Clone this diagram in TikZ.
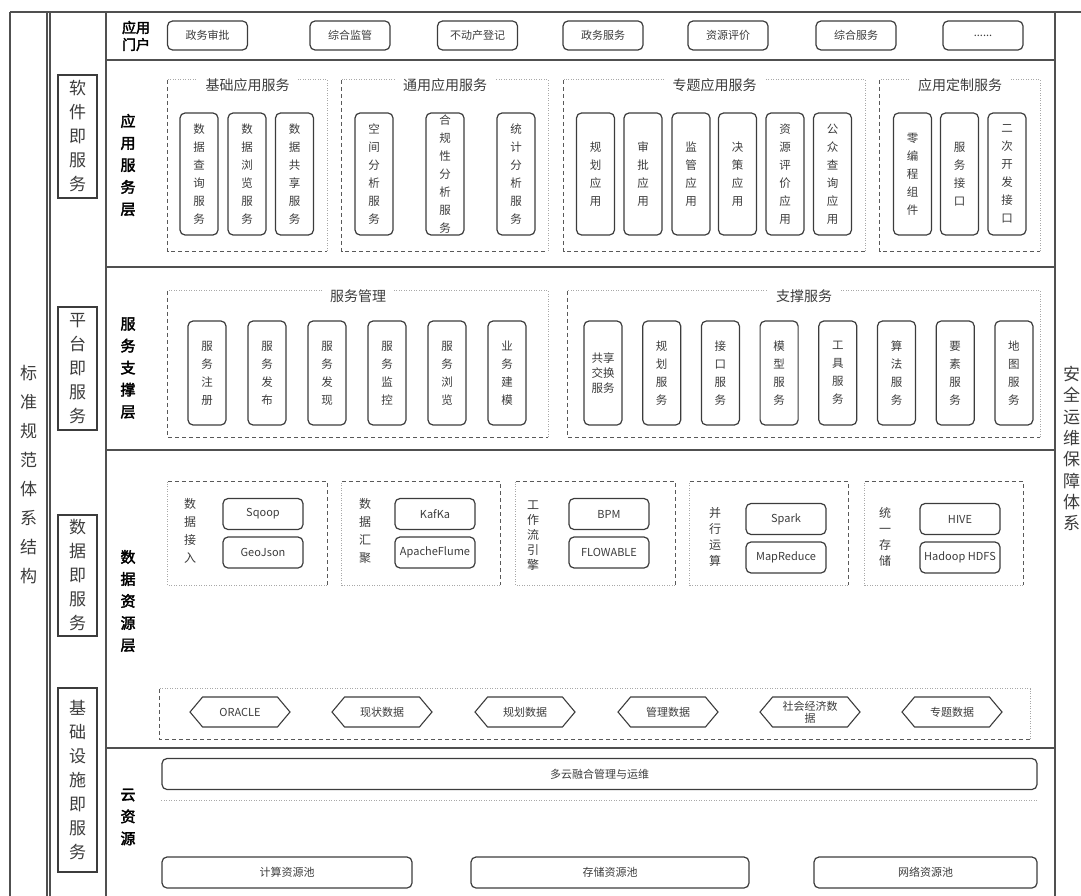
\documentclass[tikz,border=0pt]{standalone}
\usepackage{fontspec}
\setmainfont{Noto Sans CJK SC}
\newfontfamily\heavy[FakeBold=2.5]{Noto Sans CJK SC}
\usetikzlibrary{shapes.symbols}
\definecolor{ink}{HTML}{3C3C3C}
\definecolor{frame}{HTML}{505050}
\definecolor{faint}{HTML}{A8A8A8}

\begin{document}
\begin{tikzpicture}[
    x=1pt, y=-1pt,
    rule/.style={draw=frame, line width=1.6pt},
    pill/.style={draw=ink, rounded corners=5pt, line width=1.2pt, inner sep=0pt, align=center,
                 text=ink, font=\fontsize{11}{13}\selectfont},
    portal/.style={pill, minimum width=80pt, minimum height=29pt},
    appbox/.style={pill, minimum width=38pt, minimum height=122pt, font=\fontsize{11.5}{18}\selectfont},
    supbox/.style={pill, minimum width=38pt, minimum height=104pt, font=\fontsize{11.5}{18}\selectfont},
    tool/.style={pill, minimum width=80pt, minimum height=31pt},
    wide/.style={pill, minimum height=31pt},
    hexa/.style={draw=ink, line width=1.1pt, signal, signal to=west and east, signal pointer angle=100,
                 minimum width=100pt, minimum height=30pt, inner sep=0pt, align=center, text=ink,
                 font=\fontsize{11}{12}\selectfont},
    side/.style={draw=ink, line width=1.2pt, minimum width=39pt, inner sep=0pt, align=center,
                 text=ink, font=\fontsize{17}{24}\selectfont},
    sidetxt/.style={inner sep=0pt, align=center, text=ink},
    layer/.style={inner sep=0pt, align=center, font=\heavy\fontsize{15}{22}\selectfont},
    grp/.style={inner sep=0pt},
    gtitle/.style={fill=white, inner xsep=8pt, inner ysep=1pt, text=ink, font=\fontsize{14}{16}\selectfont},
    vlab/.style={inner sep=0pt, align=center, text=ink, font=\fontsize{12}{18}\selectfont},
    dashln/.style={draw=ink!85, line width=0.9pt, dash pattern=on 4pt off 3pt},
    dotln/.style={draw=faint, line width=0.8pt, dash pattern=on 1pt off 1.5pt},
  ]
  \useasboundingbox (0,0) rectangle (1081,896);

  % frame of the whole architecture
  \draw[rule] (10,12) -- (1081,12);
  \draw[rule] (10,12) -- (10,896);
  \draw[rule] (47,12) -- (47,896);
  \draw[rule] (50,12) -- (50,896);
  \draw[rule] (106,12) -- (106,896);
  \draw[rule] (1055,12) -- (1055,896);
  \foreach \y in {60,267,450,748}
    \draw[rule] (106,\y) -- (1055,\y);

  % outer columns
  \node[sidetxt, font=\fontsize{17}{29}\selectfont] (std) at (28.5,475) {标\\准\\规\\范\\体\\系\\结\\构};
  \node[sidetxt, anchor=north west, font=\fontsize{17}{21.3}\selectfont] (secu) at (1063,366) {安\\全\\运\\维\\保\\障\\体\\系};
  \node[side, minimum height=123pt] (saas) at (77.5,136.5) {软\\件\\即\\服\\务};
  \node[side, minimum height=123pt] (paas) at (77.5,368.5) {平\\台\\即\\服\\务};
  \node[side, minimum height=121pt] (daas) at (77.5,575.5) {数\\据\\即\\服\\务};
  \node[side, minimum height=184pt] (iaas) at (77.5,780) {基\\础\\设\\施\\即\\服\\务};

  % application portal
  \node[layer, font=\heavy\fontsize{14}{17}\selectfont] (portal) at (136,36) {应用\\门户};
  \node[portal] (p1) at (207.5,35.5) {政务审批};
  \node[portal] (p2) at (350,35.5)   {综合监管};
  \node[portal] (p3) at (477.5,35.5) {不动产登记};
  \node[portal] (p4) at (603,35.5)   {政务服务};
  \node[portal] (p5) at (728,35.5)   {资源评价};
  \node[portal] (p6) at (856,35.5)   {综合服务};
  \node[portal] (p7) at (983,35.5)   {......};

  % application service layer
  \node[layer] (applab) at (128,165) {应\\用\\服\\务\\层};
  \node[grp, minimum width=159pt, minimum height=171pt] (gbase)  at (247.5,165.5) {};
  \node[grp, minimum width=206pt, minimum height=171pt] (gcomm)  at (445,165.5)   {};
  \node[grp, minimum width=301pt, minimum height=171pt] (gtopic) at (714.5,165.5) {};
  \node[grp, minimum width=160pt, minimum height=171pt] (gcust)  at (960,165.5)   {};

  \node[appbox] (a1)  at (199,174)   {数\\据\\查\\询\\服\\务};
  \node[appbox] (a2)  at (247,174)   {数\\据\\浏\\览\\服\\务};
  \node[appbox] (a3)  at (294.5,174) {数\\据\\共\\享\\服\\务};
  \node[appbox] (a4)  at (374,174)   {空\\间\\分\\析\\服\\务};
  \node[appbox] (a5)  at (445,174)   {合\\规\\性\\分\\析\\服\\务};
  \node[appbox] (a6)  at (516,174)   {统\\计\\分\\析\\服\\务};
  \node[appbox] (a7)  at (595.5,174) {规\\划\\应\\用};
  \node[appbox] (a8)  at (643,174)   {审\\批\\应\\用};
  \node[appbox] (a9)  at (691,174)   {监\\管\\应\\用};
  \node[appbox] (a10) at (737.5,174) {决\\策\\应\\用};
  \node[appbox] (a11) at (785,174)   {资\\源\\评\\价\\应\\用};
  \node[appbox] (a12) at (832.5,174) {公\\众\\查\\询\\应\\用};
  \node[appbox] (a13) at (912.5,174) {零\\编\\程\\组\\件};
  \node[appbox] (a14) at (959.5,174) {服\\务\\接\\口};
  \node[appbox] (a15) at (1007,174)  {二\\次\\开\\发\\接\\口};

  % service support layer
  \node[layer] (suplab) at (128,368) {服\\务\\支\\撑\\层};
  \node[grp, minimum width=380pt, minimum height=146pt] (gmgmt) at (358,364) {};
  \node[grp, minimum width=472pt, minimum height=146pt] (gsupp) at (804,364) {};

  \node[supbox] (m1) at (207,373) {服\\务\\注\\册};
  \node[supbox] (m2) at (267,373) {服\\务\\发\\布};
  \node[supbox] (m3) at (327,373) {服\\务\\发\\现};
  \node[supbox] (m4) at (387,373) {服\\务\\监\\控};
  \node[supbox] (m5) at (447,373) {服\\务\\浏\\览};
  \node[supbox] (m6) at (507,373) {业\\务\\建\\模};
  \node[supbox, font=\fontsize{11.5}{15}\selectfont] (s1) at (603,373) {共享\\交换\\服务};
  \node[supbox] (s2) at (661.7,373)  {规\\划\\服\\务};
  \node[supbox] (s3) at (720.4,373)  {接\\口\\服\\务};
  \node[supbox] (s4) at (779.1,373)  {模\\型\\服\\务};
  \node[supbox] (s5) at (837.8,373)  {工\\具\\服\\务};
  \node[supbox] (s6) at (896.5,373)  {算\\法\\服\\务};
  \node[supbox] (s7) at (955.2,373)  {要\\素\\服\\务};
  \node[supbox] (s8) at (1013.9,373) {地\\图\\服\\务};

  % group borders: left and bottom dashed, top and right dotted
  \foreach \g in {gbase,gcomm,gtopic,gcust,gmgmt,gsupp} {
    \draw[dashln] (\g.north west) |- (\g.south east);
    \draw[dotln] (\g.south east) |- (\g.north west);
  }
  \node[gtitle] at ([yshift=-5pt]gbase.north)  {基础应用服务};
  \node[gtitle] at ([yshift=-5pt]gcomm.north)  {通用应用服务};
  \node[gtitle] at ([yshift=-5pt]gtopic.north) {专题应用服务};
  \node[gtitle] at ([yshift=-5pt]gcust.north)  {应用定制服务};
  \node[gtitle] at ([yshift=-5pt]gmgmt.north)  {服务管理};
  \node[gtitle] at ([yshift=-5pt]gsupp.north)  {支撑服务};

  % data resource layer
  \node[layer] (datlab) at (128,601) {数\\据\\资\\源\\层};
  \node[grp, minimum width=159pt, minimum height=103pt] (gin)    at (247.5,533.5) {};
  \node[grp, minimum width=158pt, minimum height=103pt] (gagg)   at (421,533.5)   {};
  \node[grp, minimum width=159pt, minimum height=103pt] (gflow)  at (595.5,533.5) {};
  \node[grp, minimum width=158pt, minimum height=103pt] (gpar)   at (769,533.5)   {};
  \node[grp, minimum width=158pt, minimum height=103pt] (gstore) at (944,533.5)   {};
  % these five keep their dashes on the top and right
  \foreach \g in {gin,gagg,gflow,gpar,gstore} {
    \draw[dashln] (\g.north west) -| (\g.south east);
    \draw[dotln] (\g.south east) -| (\g.north west);
  }
  \node[vlab] (lin)    at (190,531)   {数\\据\\接\\入};
  \node[vlab] (lagg)   at (365,531)   {数\\据\\汇\\聚};
  \node[vlab, font=\fontsize{12}{15}\selectfont] (lflow) at (533,536) {工\\作\\流\\引\\擎};
  \node[vlab, font=\fontsize{12}{16}\selectfont] (lpar)   at (715,537)   {并\\行\\运\\算};
  \node[vlab, font=\fontsize{12}{16}\selectfont] (lstore) at (885,537)   {统\\一\\存\\储};

  \node[tool] (sqoop)  at (263,514)    {Sqoop};
  \node[tool] (geoj)   at (263,552.5)  {GeoJson};
  \node[tool] (kafka)  at (435,514)    {KafKa};
  \node[tool] (flume)  at (435,552.5)  {ApacheFlume};
  \node[tool] (bpm)    at (609,514)    {BPM};
  \node[tool] (flowa)  at (609,552.5)  {FLOWABLE};
  \node[tool] (spark)  at (786,519)    {Spark};
  \node[tool] (mapred) at (786,557.5)  {MapReduce};
  \node[tool] (hive)   at (960,519)    {HIVE};
  \node[tool] (hdfs)   at (960,557.5)  {Hadoop HDFS};

  \node[grp, minimum width=870pt, minimum height=50pt] (gsrc) at (595,714) {};
  \draw[dashln] (gsrc.north west) |- (gsrc.south east);
  \draw[dotln] (gsrc.south east) |- (gsrc.north west);
  \node[hexa] (h1) at (240,712) {ORACLE};
  \node[hexa] (h2) at (382,712) {现状数据};
  \node[hexa] (h3) at (525,712) {规划数据};
  \node[hexa] (h4) at (668,712) {管理数据};
  \node[hexa] (h5) at (810,712) {社会经济数\\据};
  \node[hexa] (h6) at (952,712) {专题数据};

  % cloud resources
  \node[layer] (cldlab) at (128,817) {云\\资\\源};
  \node[wide, minimum width=875pt] (mcloud) at (599.5,774) {多云融合管理与运维};
  \draw[dotln] ([yshift=-10pt]mcloud.south west) -- ([yshift=-10pt]mcloud.south east);
  \node[wide, minimum width=250pt] (cpu)  at (287,872.5)   {计算资源池};
  \node[wide, minimum width=278pt] (disk) at (610,872.5)   {存储资源池};
  \node[wide, minimum width=223pt] (net)  at (925.5,872.5) {网络资源池};
\end{tikzpicture}
\end{document}
